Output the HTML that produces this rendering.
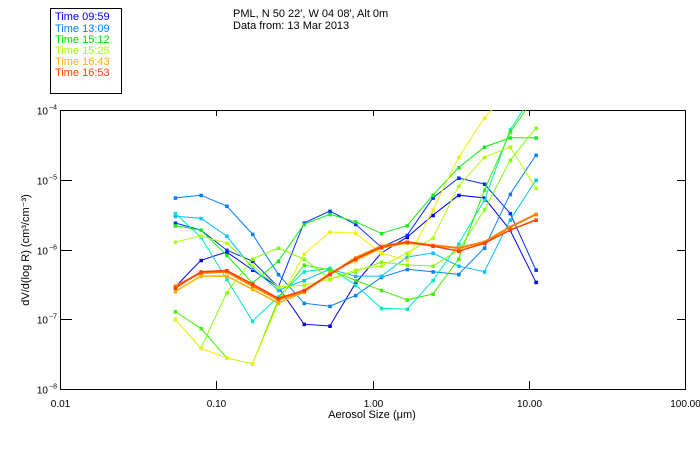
<!DOCTYPE html>
<html><head><meta charset="utf-8"><style>
body{margin:0;background:#fff;}
svg{display:block;font-family:"Liberation Sans",sans-serif;}
</style></head><body>
<svg id="chart" width="700" height="450" viewBox="0 0 700 450" xmlns="http://www.w3.org/2000/svg">
<rect width="700" height="450" fill="#fff"/>
<g>
<rect x="50.5" y="8.5" width="71" height="85" fill="none" stroke="#000"/>
<g font-size="11">
<text x="55" y="20" fill="#0000ff">Time 09:59</text>
<text x="55" y="32" fill="#0080ff">Time 13:09</text>
<text x="55" y="43" fill="#00e000">Time 15:12</text>
<text x="55" y="54" fill="#a0ff00">Time 15:25</text>
<text x="55" y="65" fill="#ffb000">Time 16:43</text>
<text x="55" y="76" fill="#ff4000">Time 16:53</text>
</g></g>
<text x="233" y="17" font-size="11">PML, N 50 22', W 04 08', Alt 0m</text>
<text x="233" y="29" font-size="11">Data from: 13 Mar 2013</text>
<defs><clipPath id="plotclip"><rect x="60" y="110" width="625" height="279"/></clipPath></defs>
<g id="axes"></g>
<g id="series" clip-path="url(#plotclip)"></g>
<text x="372" y="418" font-size="11" text-anchor="middle">Aerosol Size (μm)</text>
<text transform="translate(29,250) rotate(-90)" font-size="11" text-anchor="middle">dV/d(log R) (cm³/cm⁻³)</text>
</svg>
<script>
const sizes = [0.0546,0.0798,0.1167,0.1706,0.2494,0.3646,0.533,0.779,1.139,1.665,2.434,3.558,5.20,7.60,11.11];
const xTickValues = [0.01,0.1,1,10,100];
const xTickLabels = ["0.01","0.10","1.00","10.00","100.00"];
const yTickExponents = [-4,-5,-6,-7,-8];
const seriesBlue1 = [2.9e-7,7.0e-7,9.2e-7,5.1e-7,2.9e-7,8.5e-8,8.0e-8,3.3e-7,8.9e-7,1.5e-6,3.1e-6,6.0e-6,5.5e-6,1.9e-6,3.4e-7];
const seriesBlue2 = [2.4e-6,1.9e-6,9.8e-7,6.8e-7,2.9e-7,2.4e-6,3.55e-6,2.3e-6,1.08e-6,1.6e-6,5.5e-6,1.06e-5,8.7e-6,3.3e-6,5.1e-7];
const seriesAzure = [5.5e-6,6.0e-6,4.2e-6,1.66e-6,4.4e-7,1.7e-7,1.54e-7,2.2e-7,4.0e-7,5.2e-7,4.8e-7,4.4e-7,1.05e-6,6.2e-6,2.26e-5];
const seriesSky = [3.0e-6,2.8e-6,1.56e-6,5.4e-7,2.6e-7,3.6e-7,5.2e-7,4.15e-7,4.15e-7,7.8e-7,8.9e-7,5.8e-7,4.8e-7,2.65e-6,9.9e-6];
const seriesTeal = [3.3e-6,1.5e-6,3.75e-7,9.4e-8,2.1e-7,4.8e-7,5.4e-7,3.1e-7,1.44e-7,1.4e-7,3.6e-7,1.2e-6,5.1e-6,5.2e-5,1.9e-4];
const seriesGreen1 = [2.2e-6,1.9e-6,8.3e-7,3.3e-7,6.8e-7,2.3e-6,3.2e-6,2.5e-6,1.7e-6,2.2e-6,6.0e-6,1.5e-5,2.95e-5,4.0e-5,4.0e-5];
const seriesGreen2 = [1.29e-7,7.4e-8,2.8e-8,2.3e-8,1.9e-7,6.0e-7,5.1e-7,3.6e-7,2.6e-7,1.9e-7,2.3e-7,7.3e-7,7.1e-6,4.8e-5,1.6e-4];
const seriesLime = [1.0e-7,3.85e-8,2.4e-7,7.3e-7,1.05e-6,7.3e-7,3.75e-7,4.8e-7,6.6e-7,6.0e-7,5.8e-7,9.8e-7,3.7e-6,1.9e-5,5.5e-5];
const seriesYellowGreen = [1.28e-6,1.56e-6,1.23e-6,5.8e-7,2.9e-7,3.1e-7,3.75e-7,5.1e-7,5.8e-7,8.9e-7,1.46e-6,8.1e-6,2.1e-5,2.95e-5,7.6e-6];
const seriesYellow = [1.0e-7,3.85e-8,2.8e-8,2.3e-8,1.7e-7,8.6e-7,1.78e-6,1.72e-6,8.9e-7,7.0e-7,3.7e-6,2.1e-5,7.7e-5,1.9e-4,1.4e-3];
const seriesOrange = [2.5e-7,4.15e-7,4.15e-7,2.7e-7,1.7e-7,2.45e-7,4.6e-7,7.0e-7,1.05e-6,1.23e-6,1.15e-6,1.05e-6,1.28e-6,2.1e-6,3.2e-6];
const seriesDarkOrange = [3.0e-7,4.6e-7,4.8e-7,3.0e-7,1.9e-7,2.5e-7,4.4e-7,7.6e-7,1.12e-6,1.28e-6,1.15e-6,1.05e-6,1.28e-6,2.1e-6,3.2e-6];
const seriesRed = [2.8e-7,4.8e-7,5.0e-7,3.2e-7,2.0e-7,2.6e-7,4.4e-7,7.3e-7,1.08e-6,1.28e-6,1.12e-6,9.5e-7,1.23e-6,1.9e-6,2.65e-6];

const NS='http://www.w3.org/2000/svg';
const L=60,R=685,T=110,B=389;
function xs(v){return L+(Math.log10(v)+2)/4*(R-L);}
function ys(v){return T+(-4-Math.log10(v))/4*(B-T);}
function mk(tag,attrs,parent){const e=document.createElementNS(NS,tag);for(const k in attrs)e.setAttribute(k,attrs[k]);parent.appendChild(e);return e;}
const ax=document.getElementById('axes');
const frame=mk('rect',{x:L+0.5,y:T+0.5,width:R-L,height:B-T,fill:'none',stroke:'#000'},ax);


xTickValues.forEach((v,i)=>{
  const x=Math.round(xs(v))+0.5;
  const t1=mk('line',{x1:x,x2:x,y1:B,y2:B-8,stroke:'#000'},ax);
  
  
  const t2=mk('line',{x1:x,x2:x,y1:T,y2:T+6,stroke:'#000'},ax);
  
  
  const lb=mk('text',{x:x,y:B+18,'font-size':10,'text-anchor':'middle'},ax);
  lb.textContent=xTickLabels[i];
  
  
});
yTickExponents.forEach(e=>{
  const y=Math.round(ys(Math.pow(10,e)))+0.5;
  const t1=mk('line',{x1:L,x2:L+12,y1:y,y2:y,stroke:'#000'},ax);
  
  
  const t2=mk('line',{x1:R,x2:R-8,y1:y,y2:y,stroke:'#000'},ax);
  
  
  const lb=mk('text',{x:48,y:y+4,'font-size':10,'text-anchor':'end'},ax);
  lb.textContent='10';
  
  
  const sp=mk('text',{x:49,y:y-1,'font-size':7},ax);
  sp.textContent='−'+Math.abs(e);
  
  
});
const seriesList=[
 [seriesBlue1,'#0000f0',1,'series-blue1'],[seriesBlue2,'#0030ff',1,'series-blue2'],
 [seriesAzure,'#0080ff',1,'series-azure'],[seriesSky,'#00c0ff',1,'series-sky'],
 [seriesTeal,'#00e8c0',1,'series-teal'],[seriesGreen1,'#10f010',1,'series-green1'],
 [seriesGreen2,'#40f000',1,'series-green2'],[seriesLime,'#80ff00',1,'series-lime'],
 [seriesYellowGreen,'#b0ff00',1,'series-yellow-green'],[seriesYellow,'#f0f000',1,'series-yellow'],
 [seriesOrange,'#ffb000',1.5,'series-orange'],[seriesDarkOrange,'#ff8000',2,'series-dark-orange'],
 [seriesRed,'#ff4000',1.5,'series-red']];
const sg=document.getElementById('series');
seriesList.forEach(([vals,col,w,name])=>{
  const g=mk('g',{},sg);
  
  
  const pts=vals.map((v,i)=>xs(sizes[i]).toFixed(1)+','+ys(v).toFixed(1)).join(' ');
  const pl=mk('polyline',{points:pts,fill:'none',stroke:col,'stroke-width':w},g);
  
  
  vals.forEach((v,i)=>{
    const r=mk('rect',{x:xs(sizes[i])-1.5,y:ys(v)-1.5,width:3.5,height:3.5,fill:col},g);
    
    
  });
});
</script>
</body></html>
